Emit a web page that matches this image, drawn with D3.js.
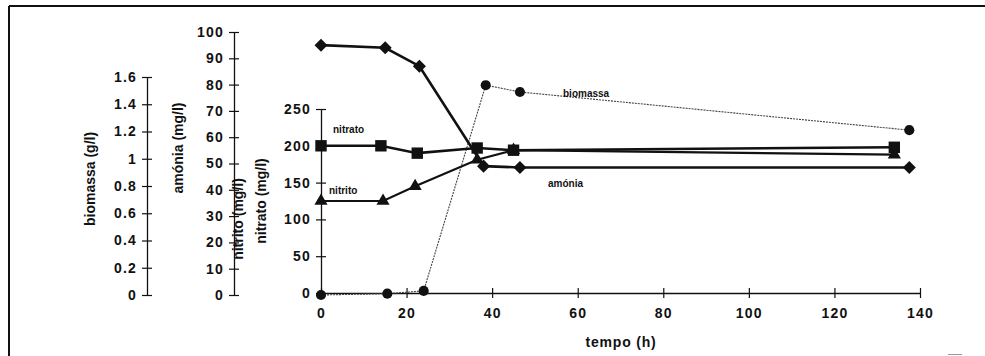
<!DOCTYPE html>
<html>
<head>
<meta charset="utf-8">
<script src="https://cdn.jsdelivr.net/npm/d3@7"></script>
<style>
  body { margin: 0; background: #fff; }
  text { font-family: "Liberation Sans", Arial, sans-serif; fill: #111; }
</style>
</head>
<body>
<div id="viz"></div>
<script>
// data
var tempoTicks = [0, 20, 40, 60, 80, 100, 120, 140];
var biomassaTicks = [0, 0.2, 0.4, 0.6, 0.8, 1, 1.2, 1.4, 1.6];
var amoniaTicks = [0, 10, 20, 30, 40, 50, 60, 70, 80, 90, 100];
var nitTicks = [0, 50, 100, 150, 200, 250];

var tempoAmonia = [0, 15, 23, 38, 46.5, 137.5];
var amonia = [95, 94, 87, 49, 48.5, 48.5];

var tempoNitrato = [0, 14, 22.5, 36.5, 45, 134];
var nitrato = [200, 200, 190, 197, 194, 198];

var tempoNitrito = [0, 14.5, 22, 36.5, 45, 134];
var nitrito = [125, 125, 145, 181, 194, 188];

var tempoBiomassa = [0, 15.5, 24, 38.5, 46.5, 137.5];
var biomassa = [0, 0.01, 0.03, 1.54, 1.49, 1.21];

var width = 985,
    height = 356;

var svg = d3.select("#viz").append("svg")
    .attr("width", width)
    .attr("height", height);

// frame
svg.append("line").attr("x1", 9).attr("y1", 6).attr("x2", 985).attr("y2", 6)
    .style("stroke", "#111").style("stroke-width", 2);
svg.append("line").attr("x1", 9).attr("y1", 6).attr("x2", 9).attr("y2", 356)
    .style("stroke", "#111").style("stroke-width", 2);
svg.append("line").attr("x1", 948).attr("y1", 354.5).attr("x2", 962).attr("y2", 354.5)
    .style("stroke", "#999").style("stroke-width", 1);

// scales
var x = d3.scaleLinear().domain([0, 140]).range([321, 920]);
var yNit = d3.scaleLinear().domain([0, 250]).range([293, 109]);
var yAmo = d3.scaleLinear().domain([0, 100]).range([295, 32]);
var yBio = d3.scaleLinear().domain([0, 1.6]).range([295, 77]);

function styleAxis(g) {
    g.select(".domain").style("stroke", "#111").style("stroke-width", 1.3);
    g.selectAll(".tick line").style("stroke", "#111").style("stroke-width", 1.2);
    g.selectAll(".tick text")
        .style("font-size", "14px")
        .style("font-weight", "bold")
        .style("letter-spacing", "1.2px")
        .style("fill", "#111");
}

// y axes: ticks cross the axis line
function yAxisAt(scale, ticks, xpos) {
    var g = svg.append("g")
        .attr("transform", "translate(" + xpos + ",0)")
        .call(d3.axisLeft(scale).tickValues(ticks).tickSize(5).tickSizeOuter(0).tickFormat(d3.format("")));
    g.selectAll(".tick line").attr("x2", 5).attr("x1", -5);
    g.selectAll(".tick text").attr("x", -10);
    styleAxis(g);
    return g;
}

yAxisAt(yBio, biomassaTicks, 147);
yAxisAt(yAmo, amoniaTicks, 234);
yAxisAt(yNit, nitTicks, 321);

// x axis
var gx = svg.append("g")
    .attr("transform", "translate(0," + yNit(0) + ")")
    .call(d3.axisBottom(x).tickValues(tempoTicks).tickSize(5).tickSizeOuter(0));
gx.selectAll(".tick line").attr("y1", -5).attr("y2", 5);
gx.selectAll(".tick text").attr("y", 15);
styleAxis(gx);

// axis titles
function yTitle(txt, xb, yc) {
    svg.append("text")
        .attr("transform", "translate(" + xb + "," + yc + ") rotate(-90)")
        .attr("text-anchor", "middle")
        .style("font-size", "14px")
        .style("font-weight", "bold")
        .text(txt);
}
yTitle("biomassa (g/l)", 95, 179);
yTitle("amónia (mg/l)", 183, 148);
yTitle("nitrito (mg/l)", 243, 219);
yTitle("nitrato (mg/l)", 266, 201);

svg.append("text")
    .attr("x", 621).attr("y", 347)
    .attr("text-anchor", "middle")
    .style("font-size", "14px")
    .style("font-weight", "bold")
    .style("letter-spacing", "0.8px")
    .text("tempo (h)");

// series
function pts(ts, vs) {
    return ts.map(function(t, i) { return [t, vs[i]]; });
}

function drawSeries(data, yScale, lineW, dash, color, symType, symSize, rot) {
    var line = d3.line()
        .x(function(d) { return x(d[0]); })
        .y(function(d) { return yScale(d[1]); });
    svg.append("path")
        .datum(data)
        .attr("d", line)
        .style("fill", "none")
        .style("stroke", color)
        .style("stroke-width", lineW)
        .style("stroke-dasharray", dash);
    svg.selectAll(null)
        .data(data)
        .enter().append("path")
        .attr("d", d3.symbol().type(symType).size(symSize))
        .attr("transform", function(d) {
            return "translate(" + x(d[0]) + "," + yScale(d[1]) + ") rotate(" + rot + ")";
        })
        .style("fill", "#111");
}

// biomassa (dotted)
drawSeries(pts(tempoBiomassa, biomassa), yBio, 1.1, "2,1", "#444", d3.symbolCircle, 80, 0);
// nitrito
drawSeries(pts(tempoNitrito, nitrito), yNit, 2.2, null, "#111", d3.symbolTriangle, 75, 0);
// nitrato
drawSeries(pts(tempoNitrato, nitrato), yNit, 2.6, null, "#111", d3.symbolSquare, 130, 0);
// amonia
drawSeries(pts(tempoAmonia, amonia), yAmo, 2.6, null, "#111", d3.symbolSquare, 85, 45);

// series labels
function label(txt, lx, ly) {
    svg.append("text")
        .attr("x", lx).attr("y", ly)
        .style("font-size", "10px")
        .style("font-weight", "bold")
        .text(txt);
}
label("nitrato", 333, 133);
label("nitrito", 329, 194);
label("biomassa", 563, 97);
label("amónia", 548, 187);
</script>
</body>
</html>
